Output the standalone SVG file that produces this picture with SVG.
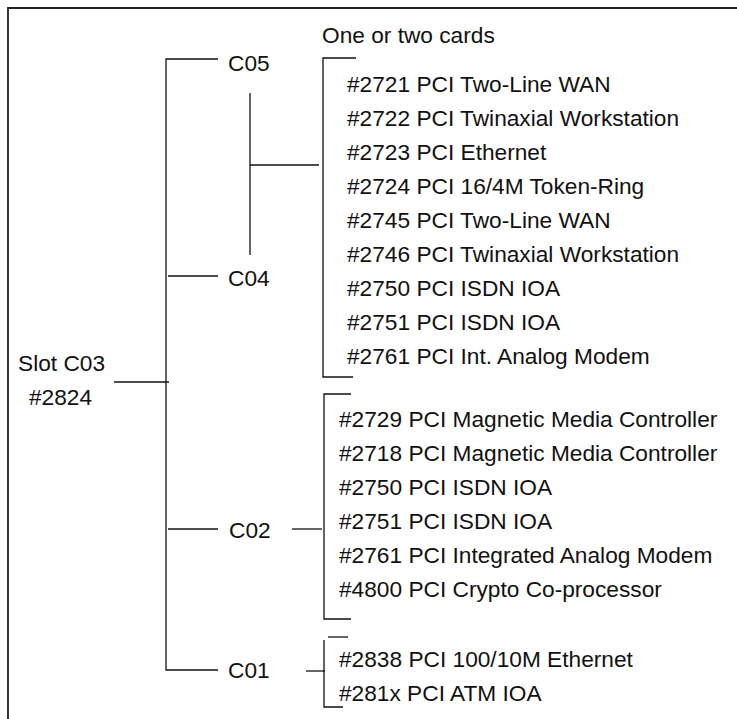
<svg xmlns="http://www.w3.org/2000/svg" width="737" height="719" viewBox="0 0 737 719">
<style>
text{font-family:"Liberation Sans",Arial,sans-serif;font-size:22.7px;fill:#111}
.ln{stroke:#111;stroke-width:1.3;fill:none}
.frame{stroke:#222;stroke-width:1.8;fill:none}
</style>
<rect width="737" height="719" fill="#fff"/>
<path class="frame" d="M8,719 V8 H737"/>
<g id="connectors">
<path class="ln" d="M114,382 H169"/>
<path class="ln" d="M218,59 H166 V670 H218"/>
<path class="ln" d="M168,276 H218"/>
<path class="ln" d="M168,529 H218"/>
<path class="ln" d="M250,93 V255"/>
<path class="ln" d="M250,165 H319"/>
<path class="ln" d="M292,529 H322"/>
<path class="ln" d="M306,671 H325"/>
</g>
<g id="slot">
<text x="18" y="371">Slot C03</text>
<text x="29" y="405">#2824</text>
</g>
<g id="c05"><text x="228" y="71">C05</text></g>
<g id="c04"><text x="228" y="286">C04</text></g>
<g id="c02"><text x="229" y="538">C02</text></g>
<g id="c01"><text x="228" y="678">C01</text></g>
<g id="list-c05-c04">
<text x="322" y="43">One or two cards</text>
<path class="ln" d="M356,58 H323 V377 H353"/>
<text x="347" y="92">#2721 PCI Two-Line WAN</text>
<text x="347" y="126">#2722 PCI Twinaxial Workstation</text>
<text x="347" y="160">#2723 PCI Ethernet</text>
<text x="347" y="194">#2724 PCI 16/4M Token-Ring</text>
<text x="347" y="228">#2745 PCI Two-Line WAN</text>
<text x="347" y="262">#2746 PCI Twinaxial Workstation</text>
<text x="347" y="296">#2750 PCI ISDN IOA</text>
<text x="347" y="330">#2751 PCI ISDN IOA</text>
<text x="347" y="364">#2761 PCI Int. Analog Modem</text>
</g>
<g id="list-c02">
<path class="ln" d="M351,394 H324 V619 H351"/>
<text x="339" y="427">#2729 PCI Magnetic Media Controller</text>
<text x="339" y="461">#2718 PCI Magnetic Media Controller</text>
<text x="339" y="495">#2750 PCI ISDN IOA</text>
<text x="339" y="529">#2751 PCI ISDN IOA</text>
<text x="339" y="563">#2761 PCI Integrated Analog Modem</text>
<text x="339" y="597">#4800 PCI Crypto Co-processor</text>
</g>
<g id="list-c01">
<path class="ln" d="M328,637 H348"/>
<path class="ln" d="M324,640 V707 H343"/>
<text x="339" y="667">#2838 PCI 100/10M Ethernet</text>
<text x="339" y="701">#281x PCI ATM IOA</text>
</g>
</svg>
